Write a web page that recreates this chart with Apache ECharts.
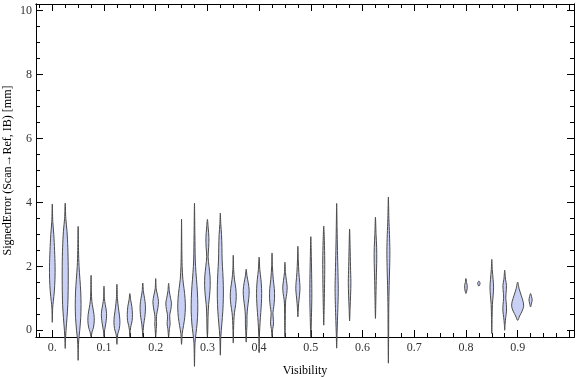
<!DOCTYPE html>
<html>
<head>
<meta charset="utf-8">
<script src="https://cdn.jsdelivr.net/npm/echarts@6/dist/echarts.min.js"></script>
<style>
  html, body { margin: 0; padding: 0; background: #fff; }
  #chart { width: 576px; height: 377px; }
</style>
</head>
<body>
<div id="chart"></div>
<script>
// visibility bin of each violin
const visibility = [0, 0.025, 0.05, 0.075, 0.1, 0.125, 0.15, 0.175, 0.2, 0.225, 0.25, 0.275,
  0.3, 0.325, 0.35, 0.375, 0.4, 0.425, 0.45, 0.475, 0.5, 0.525, 0.55, 0.575,
  0.625, 0.65, 0.8, 0.825, 0.85, 0.875, 0.9, 0.925];

// density profile of each violin: [signed error (mm), density]
const profiles = [
  [[3.95,0],[3.4,0.5],[3.0,1.5],[2.5,2.3],[2.0,2.8],[1.6,2.7],[1.2,2.0],[0.9,1.0],[0.7,0.4],[0.25,0]],
  [[3.98,0],[3.5,0.6],[3.1,1.8],[2.6,2.6],[2.0,3.0],[1.4,3.0],[0.8,2.6],[0.4,1.8],[0.0,0.8],[-0.3,0.3],[-0.57,0]],
  [[3.25,0],[2.5,0.4],[2.0,0.9],[1.6,1.8],[1.2,2.6],[0.8,2.9],[0.4,2.6],[0.0,1.6],[-0.3,0.6],[-0.6,0.2],[-0.94,0]],
  [[1.72,0],[1.2,0.3],[0.9,0.8],[0.7,1.8],[0.5,2.9],[0.3,3.2],[0.1,2.5],[-0.05,1.0],[-0.2,0]],
  [[1.38,0],[1.0,0.4],[0.8,1.3],[0.6,2.4],[0.45,2.6],[0.3,2.2],[0.1,1.2],[-0.05,0.4],[-0.2,0]],
  [[1.44,0],[1.0,0.5],[0.7,1.5],[0.45,2.6],[0.25,3.0],[0.05,2.4],[-0.1,1.0],[-0.25,0.3],[-0.44,0]],
  [[1.15,0],[0.95,0.8],[0.75,2.0],[0.5,2.6],[0.3,2.3],[0.15,1.2],[0,0.4],[-0.2,0]],
  [[1.48,0],[1.2,0.7],[1.0,1.8],[0.8,2.6],[0.6,2.6],[0.4,2.0],[0.2,1.0],[0,0.4],[-0.2,0]],
  [[1.62,0],[1.3,0.5],[1.1,1.8],[0.9,2.8],[0.7,2.2],[0.5,1.0],[0.35,0.7],[0.2,0.9],[0.05,0.6],[-0.2,0]],
  [[1.47,0],[1.2,0.8],[1.0,2.0],[0.85,2.8],[0.65,2.2],[0.5,1.2],[0.35,1.2],[0.2,1.5],[0.05,0.8],[-0.2,0]],
  [[3.48,0],[2.5,0.3],[2.0,0.6],[1.6,1.3],[1.3,2.5],[1.0,3.5],[0.7,3.8],[0.4,3.2],[0.15,2.0],[-0.1,0.7],[-0.44,0]],
  [[3.98,0],[3.0,0.4],[2.2,0.8],[1.8,1.5],[1.4,2.5],[1.0,3.2],[0.6,3.3],[0.2,2.6],[-0.1,1.5],[-0.4,0.5],[-1.13,0]],
  [[3.47,0],[3.2,0.8],[2.9,1.5],[2.6,1.3],[2.3,0.7],[2.0,1.6],[1.7,2.6],[1.4,2.8],[1.1,2.2],[0.8,1.2],[0.4,0.6],[0.0,0.4],[-0.2,0]],
  [[3.67,0],[3.3,0.5],[3.0,1.2],[2.6,1.6],[2.2,1.8],[1.8,2.5],[1.4,3.0],[1.0,3.0],[0.6,2.5],[0.2,1.5],[-0.2,0.5],[-0.78,0]],
  [[2.35,0],[1.9,0.4],[1.6,1.2],[1.3,2.6],[1.05,3.0],[0.8,2.4],[0.55,1.2],[0.3,0.6],[0,0.3],[-0.4,0]],
  [[1.91,0],[1.7,0.8],[1.5,2.0],[1.25,3.0],[1.0,2.6],[0.7,1.4],[0.45,0.8],[0.2,0.8],[0,0.5],[-0.37,0]],
  [[2.29,0],[1.9,0.7],[1.6,1.8],[1.3,2.5],[1.0,2.5],[0.7,2.0],[0.4,1.3],[0.1,0.7],[-0.2,0.3],[-0.7,0]],
  [[2.42,0],[2.0,0.4],[1.6,1.2],[1.3,2.3],[1.0,2.5],[0.75,1.8],[0.55,0.9],[0.35,1.3],[0.2,1.5],[0.05,0.7],[-0.2,0]],
  [[2.13,0],[1.8,0.5],[1.55,1.5],[1.35,2.2],[1.15,1.8],[0.95,0.8],[0.7,0.4],[0.3,0.3],[-0.2,0]],
  [[2.63,0],[2.2,0.4],[1.8,1.0],[1.5,1.8],[1.3,2.1],[1.1,1.6],[0.85,0.8],[0.6,0.3],[0.42,0]],
  [[2.93,0],[2.3,0.5],[1.6,0.9],[1.0,1.0],[0.4,0.6],[-0.2,0]],
  [[3.26,0],[2.8,0.6],[2.2,1.0],[1.6,0.9],[1.0,0.6],[0.5,0.3],[0.16,0]],
  [[3.97,0],[3.2,0.4],[2.5,0.8],[1.8,1.3],[1.3,1.6],[0.8,1.3],[0.3,0.8],[-0.1,0.4],[-0.56,0]],
  [[3.17,0],[2.6,0.5],[2.0,0.9],[1.5,1.3],[1.1,1.0],[0.7,0.5],[0.29,0]],
  [[3.54,0],[3.0,0.6],[2.6,1.2],[2.2,1.3],[1.7,0.9],[1.1,0.5],[0.37,0]],
  [[4.17,0],[3.5,0.5],[3.0,1.1],[2.5,1.5],[2.0,1.3],[1.4,0.8],[0.7,0.4],[0,0.3],[-1.03,0]],
  [[1.62,0],[1.5,0.6],[1.4,1.3],[1.3,1.2],[1.2,0.6],[1.15,0]],
  [[1.54,0],[1.47,1.2],[1.38,0]],
  [[2.22,0],[1.9,0.5],[1.6,1.3],[1.35,1.8],[1.1,1.4],[0.8,0.6],[0.4,0.3],[-0.1,0]],
  [[1.88,0],[1.6,0.8],[1.4,1.8],[1.15,1.3],[1.0,1.1],[0.8,1.7],[0.6,1.8],[0.4,1.0],[0.2,0.4],[0,0]],
  [[1.51,0],[1.3,1.5],[1.1,3.5],[0.9,5.5],[0.75,6.0],[0.6,4.5],[0.45,2.0],[0.31,0]],
  [[1.15,0],[1.05,1.0],[0.95,1.6],[0.85,1.0],[0.73,0]]
];

// tick labels
const xLabelValues = [0, 0.1, 0.2, 0.3, 0.4, 0.5, 0.6, 0.7, 0.8, 0.9];
const xMajorTicks = [0, 0.1, 0.2, 0.3, 0.4, 0.5, 0.6, 0.7, 0.8, 0.9, 1.0];
const yLabelValues = [0, 2, 4, 6, 8, 10];

const xMinorTicks = [];
for (let k = -1; k <= 40; k++) xMinorTicks.push(+(k * 0.025).toFixed(3));
const yMinorTicks = [];
for (let k = 0; k <= 20; k++) yMinorTicks.push(k * 0.5);

const DENS = 0.00193;   // density -> visibility units
const X_MIN = -0.0315, X_MAX = 1.009;
const Y_MIN = -0.21, Y_MAX = 10.21;
const FONT = 'Liberation Serif';

function xAxisDef(pos, ticks, len, labels) {
  return {
    type: 'value', position: pos, min: X_MIN, max: X_MAX, offset: 0,
    axisLine: { show: true, onZero: false, lineStyle: { color: '#000', width: 1 } },
    axisTick: { show: true, inside: true, length: len, customValues: ticks, lineStyle: { color: '#000' } },
    axisLabel: labels ? {
      show: true, customValues: labels, color: '#333', fontFamily: FONT, fontSize: 12, margin: 5,
      formatter: v => (v === 0 ? '0.' : v.toFixed(1))
    } : { show: false },
    splitLine: { show: false }
  };
}
function yAxisDef(pos, ticks, len, labels) {
  return {
    type: 'value', position: pos, min: Y_MIN, max: Y_MAX, offset: 0,
    axisLine: { show: true, onZero: false, lineStyle: { color: '#000', width: 1 } },
    axisTick: { show: true, inside: true, length: len, customValues: ticks, lineStyle: { color: '#000' } },
    axisLabel: labels ? {
      show: true, customValues: labels, color: '#333', fontFamily: FONT, fontSize: 12, margin: 4,
      formatter: v => String(v)
    } : { show: false },
    splitLine: { show: false }
  };
}

const xBottom = xAxisDef('bottom', xMajorTicks, 7, xLabelValues);
xBottom.name = 'Visibility';
xBottom.nameLocation = 'middle';
xBottom.nameGap = 28;
xBottom.nameMoveOverlap = false;
xBottom.nameTextStyle = { color: '#000', fontFamily: FONT, fontSize: 12 };

const yLeft = yAxisDef('left', yLabelValues, 7, yLabelValues);
yLeft.name = 'SignedError (Scan\u2192Ref, IB) [mm]';
yLeft.nameLocation = 'middle';
yLeft.nameGap = 22;
yLeft.nameMoveOverlap = false;
yLeft.nameTextStyle = { color: '#000', fontFamily: FONT, fontSize: 12 };

const option = {
  animation: false,
  grid: { left: 36, right: 2, top: 4, bottom: 40, containLabel: false, outerBoundsMode: 'none' },
  xAxis: [
    xBottom,
    xAxisDef('bottom', xMinorTicks, 4, null),
    xAxisDef('top', xMajorTicks, 7, null),
    xAxisDef('top', xMinorTicks, 4, null)
  ],
  yAxis: [
    yLeft,
    yAxisDef('left', yMinorTicks, 4, null),
    yAxisDef('right', yLabelValues, 7, null),
    yAxisDef('right', yMinorTicks, 4, null)
  ],
  series: [{
    type: 'custom',
    xAxisIndex: 0,
    yAxisIndex: 0,
    clip: false,
    data: visibility.map((v, i) => [v, profiles[i][0][0]]),
    renderItem: function (params, api) {
      const x = visibility[params.dataIndex];
      const prof = profiles[params.dataIndex];
      const right = prof.map(p => api.coord([x + p[1] * DENS, p[0]]));
      const left = prof.slice(1, -1).reverse().map(p => api.coord([x - p[1] * DENS, p[0]]));
      return {
        type: 'polygon',
        shape: { points: right.concat(left), smooth: 0.3 },
        style: { fill: '#c9d0f5', stroke: '#4a4a4a', lineWidth: 1 }
      };
    }
  }]
};

const myChart = echarts.init(document.getElementById('chart'), null, { renderer: 'canvas' });
myChart.setOption(option);
window.onresize = function () {
  myChart.resize();
};
</script>
</body>
</html>
